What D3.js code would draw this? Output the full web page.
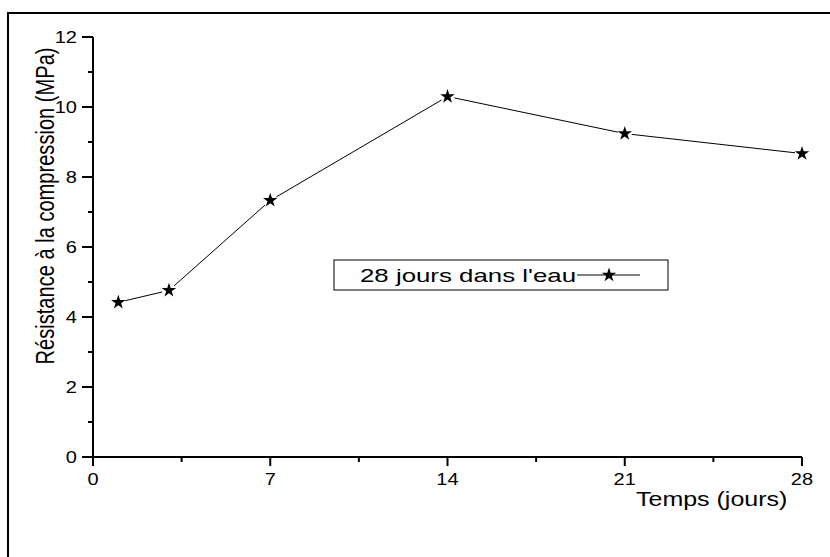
<!DOCTYPE html>
<html>
<head>
<meta charset="utf-8">
<script src="https://cdn.jsdelivr.net/npm/d3@7"></script>
<style>
  body { margin: 0; background: #fff; }
  text { font-family: "Liberation Sans", Arial, sans-serif; fill: #000; }
</style>
</head>
<body>
<div id="chart"></div>
<script>
// data
const days = [1, 3, 7, 14, 21, 28];
const strength = [4.42, 4.76, 7.33, 10.3, 9.24, 8.67];
const xTicks = [0, 7, 14, 21, 28];
const yTicks = [0, 2, 4, 6, 8, 10, 12];
const seriesName = "28 jours dans l'eau";
const xTitle = "Temps (jours)";
const yTitle = "Résistance à la compression (MPa)";

const width = 830, height = 557;
const margin = {left: 93, right: 28, top: 37, bottom: 100};
const sx = 1.25; // glyphs in the source are stretched horizontally

const x = d3.scaleLinear().domain([0, 28]).range([margin.left, width - margin.right]);
const y = d3.scaleLinear().domain([0, 12]).range([height - margin.bottom, margin.top]);

const svg = d3.select("#chart").append("svg")
  .attr("width", width).attr("height", height);

// outer frame (runs off the right and bottom edges)
svg.append("rect")
  .attr("x", 8).attr("y", 13).attr("width", 900).attr("height", 700)
  .attr("fill", "none").attr("stroke", "#000").attr("stroke-width", 2);

const data = days.map((d, i) => ({day: d, val: strength[i]}));

// x axis
const gx = svg.append("g");
gx.append("line")
  .attr("x1", x(0)).attr("x2", x(28)).attr("y1", y(0)).attr("y2", y(0))
  .attr("stroke", "#000").attr("stroke-width", 2);
d3.range(0, 28.01, 3.5).forEach(v => {
  const major = xTicks.includes(v);
  gx.append("line")
    .attr("x1", x(v)).attr("x2", x(v))
    .attr("y1", y(0)).attr("y2", y(0) + (major ? 9 : 5))
    .attr("stroke", "#000").attr("stroke-width", 2);
});
xTicks.forEach(v => {
  gx.append("g").attr("transform", `translate(${x(v)},${y(0) + 28}) scale(${sx},1)`)
    .append("text").attr("text-anchor", "middle").attr("font-size", 16).text(v);
});

// y axis
const gy = svg.append("g");
gy.append("line")
  .attr("x1", x(0)).attr("x2", x(0)).attr("y1", y(0)).attr("y2", y(12))
  .attr("stroke", "#000").attr("stroke-width", 2);
d3.range(0, 12.01, 1).forEach(v => {
  const major = yTicks.includes(v);
  gy.append("line")
    .attr("x1", x(0) - (major ? 11 : 5)).attr("x2", x(0))
    .attr("y1", y(v)).attr("y2", y(v))
    .attr("stroke", "#000").attr("stroke-width", 2);
});
yTicks.forEach(v => {
  gy.append("g").attr("transform", `translate(${x(0) - 16},${y(v) + 6}) scale(${sx},1)`)
    .append("text").attr("text-anchor", "end").attr("font-size", 16).text(v);
});

// axis titles
svg.append("g").attr("transform", `translate(636,506) scale(${sx},1)`)
  .append("text").attr("font-size", 20).text(xTitle);
svg.append("g").attr("transform", `translate(54,206) scale(${sx},1) rotate(-90)`)
  .append("text").attr("text-anchor", "middle").attr("font-size", 20)
  .attr("textLength", 317).attr("lengthAdjust", "spacingAndGlyphs").text(yTitle);

// line segments, stopped short of the markers
const gap = 7;
for (let i = 0; i < data.length - 1; i++) {
  const x1 = x(data[i].day), y1 = y(data[i].val);
  const x2 = x(data[i + 1].day), y2 = y(data[i + 1].val);
  const len = Math.hypot(x2 - x1, y2 - y1);
  const ux = (x2 - x1) / len, uy = (y2 - y1) / len;
  svg.append("line")
    .attr("x1", x1 + ux * gap).attr("y1", y1 + uy * gap)
    .attr("x2", x2 - ux * gap).attr("y2", y2 - uy * gap)
    .attr("stroke", "#000").attr("stroke-width", 1);
}

const star = d3.symbol().type(d3.symbolStar).size(65);
svg.selectAll("path.pt")
  .data(data)
  .enter()
  .append("path")
    .attr("class", "pt")
    .attr("d", star)
    .attr("transform", d => `translate(${x(d.day)},${y(d.val)})`)
    .attr("fill", "#000");

// legend
const lg = svg.append("g");
lg.append("rect")
  .attr("x", 334).attr("y", 260).attr("width", 334).attr("height", 30)
  .attr("fill", "#fff").attr("stroke", "#000").attr("stroke-width", 1);
lg.append("text")
  .attr("x", 360).attr("y", 282).attr("font-size", 19)
  .attr("textLength", 216).attr("lengthAdjust", "spacingAndGlyphs")
  .text(seriesName);
lg.append("line")
  .attr("x1", 577).attr("x2", 640).attr("y1", 275).attr("y2", 275)
  .attr("stroke", "#000").attr("stroke-width", 1);
lg.append("path").attr("d", star)
  .attr("transform", "translate(609,275)").attr("fill", "#000");
</script>
</body>
</html>
